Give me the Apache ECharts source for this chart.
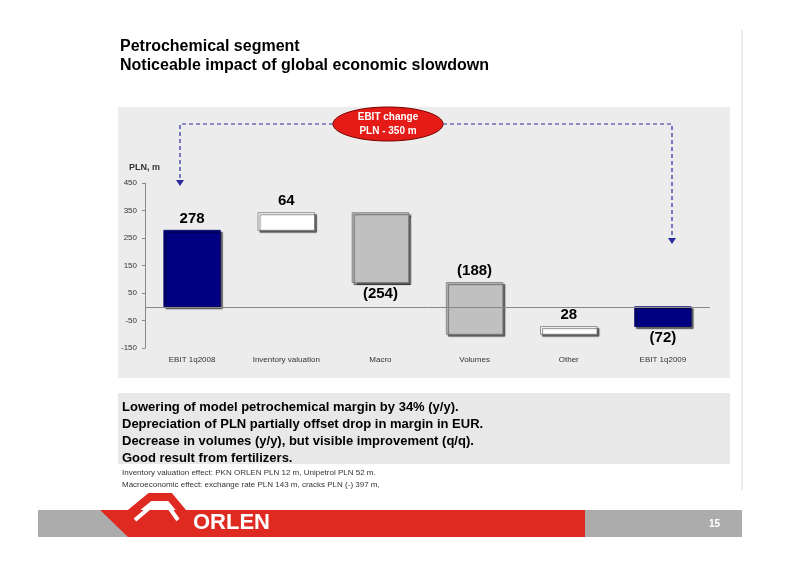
<!DOCTYPE html>
<html><head><meta charset="utf-8">
<script src="https://cdn.jsdelivr.net/npm/echarts@6/dist/echarts.min.js"></script>
<style>html,body{margin:0;padding:0;background:#fff}#c{width:800px;height:565px}</style>
</head><body><div id="c"></div>
<script>
var categories = ['EBIT 1q2008', 'Inventory valuation', 'Macro', 'Volumes', 'Other', 'EBIT 1q2009'];
var changes = [278, 64, -254, -188, 28, -72];
var kinds = ['total', 'up', 'down', 'down', 'up', 'total'];
var valueLabels = ['278', '64', '(254)', '(188)', '28', '(72)'];
var yTicks = [-150, -50, 50, 150, 250, 350, 450];
var bulletText = [
  'Lowering of model petrochemical margin by 34% (y/y).',
  'Depreciation of PLN partially offset drop in margin in EUR.',
  'Decrease in volumes (y/y), but visible improvement (q/q).',
  'Good result from fertilizers.'
];
var notes = [
  'Inventory valuation effect: PKN ORLEN PLN 12 m, Unipetrol PLN 52 m.',
  'Macroeconomic effect: exchange rate PLN 143 m, cracks PLN (-) 397 m,'
];

var colors = {total: '#000080', up: '#ffffff', down: '#c0c0c0'};
// build [index, low, high, labelBelow] from the running sum
var bars = [];
var run = 0;
for (var i = 0; i < changes.length; i++) {
  var from, to;
  if (kinds[i] === 'total') { from = 0; to = changes[i]; run = changes[i]; }
  else { from = run; to = run + changes[i]; run = to; }
  var below = (i === 2 || i === 5);
  bars.push([i, Math.min(from, to), Math.max(from, to), below ? 1 : 0]);
}

var chart = echarts.init(document.getElementById('c'));
var font = 'Arial, "Liberation Sans", sans-serif';
var graphics = [
  {type: 'line', shape: {x1: 742, y1: 30, x2: 742, y2: 490}, style: {stroke: '#d8d8d8', lineWidth: 1}},
  {type: 'text', left: 120, top: 37, style: {text: 'Petrochemical segment\nNoticeable impact of global economic slowdown', font: 'bold 16px ' + font, fill: '#000', lineHeight: 19}},
  {type: 'rect', shape: {x: 118, y: 107, width: 612, height: 271}, style: {fill: '#ececec'}, z: -10},
  {type: 'rect', shape: {x: 118, y: 393, width: 612, height: 71}, style: {fill: '#e8e8e8'}, z: -10},
  {type: 'text', left: 122, top: 399, style: {text: bulletText.join('\n'), font: 'bold 13px ' + font, fill: '#000', lineHeight: 17}},
  {type: 'text', left: 122, top: 467, style: {text: notes.join('\n'), font: '8px ' + font, fill: '#333', lineHeight: 12}},
  {type: 'polyline', shape: {points: [[333, 124], [180, 124], [180, 180]]}, style: {stroke: '#2a2aa0', lineDash: [4, 3], lineWidth: 1.2, fill: null}},
  {type: 'polyline', shape: {points: [[443, 124], [672, 124], [672, 238]]}, style: {stroke: '#2a2aa0', lineDash: [4, 3], lineWidth: 1.2, fill: null}},
  {type: 'polygon', shape: {points: [[176, 180], [184, 180], [180, 186]]}, style: {fill: '#2a2aa0'}},
  {type: 'polygon', shape: {points: [[668, 238], [676, 238], [672, 244]]}, style: {fill: '#2a2aa0'}},
  {type: 'ellipse', shape: {cx: 388, cy: 124, rx: 55, ry: 17}, style: {fill: '#e41b17', stroke: '#7a0000', lineWidth: 1}},
  {type: 'text', x: 388, y: 124, style: {text: 'EBIT change\nPLN - 350 m', font: 'bold 10px ' + font, fill: '#fff', align: 'center', verticalAlign: 'middle', lineHeight: 14}},
  {type: 'text', left: 129, top: 163, style: {text: 'PLN, m', font: 'bold 9px ' + font, fill: '#333'}},
  // footer
  {type: 'rect', shape: {x: 38, y: 510, width: 704, height: 27}, style: {fill: '#acacac'}},
  {type: 'polygon', shape: {points: [[100, 510], [585, 510], [585, 537], [128, 537]]}, style: {fill: '#de2a20'}},
  {type: 'text', left: 193, top: 512, style: {text: 'ORLEN', font: 'bold 22px ' + font, fill: '#fff'}},
  {type: 'polyline', shape: {points: [[128, 515], [150, 497], [170, 497], [185, 515]]}, style: {stroke: '#de2a20', lineWidth: 8, fill: null}},
  {type: 'polyline', shape: {points: [[135, 520], [155, 503], [166, 503], [178, 520]]}, style: {stroke: '#fff', lineWidth: 4, fill: null}},
  {type: 'text', left: 709, top: 519, style: {text: '15', font: 'bold 10px ' + font, fill: '#fff'}}
];

chart.setOption({
  animation: false,
  graphic: graphics,
  grid: {left: 145, right: 90, top: 183, bottom: 217},
  xAxis: {type: 'category', data: categories, position: 'bottom', axisLine: {show: false}, axisTick: {show: false},
    axisLabel: {fontSize: 8, fontFamily: font, color: '#333', margin: 8}},
  yAxis: {
    type: 'value', min: -150, max: 450,
    splitLine: {show: false},
    axisLine: {show: true, lineStyle: {color: '#888'}},
    axisTick: {show: true, length: 3, customValues: yTicks, lineStyle: {color: '#888'}},
    axisLabel: {fontSize: 8, fontFamily: font, color: '#333', customValues: yTicks}
  },
  series: [{
    type: 'custom',
    data: bars,
    markLine: {
      silent: true, symbol: 'none', label: {show: false},
      lineStyle: {color: '#888', type: 'solid', width: 1},
      data: [{yAxis: 0}]
    },
    renderItem: function (params, api) {
      var idx = api.value(0);
      var lo = api.coord([idx, api.value(1)]);
      var hi = api.coord([idx, api.value(2)]);
      var w = api.size([1, 0])[0] * 0.6;
      var k = kinds[idx];
      var below = api.value(3) === 1;
      return {
        type: 'group',
        children: [
          {type: 'rect', shape: {x: hi[0] - w / 2, y: hi[1], width: w, height: lo[1] - hi[1]},
           style: {fill: colors[k], stroke: k === 'total' ? '#000060' : '#777', lineWidth: 0.8,
                   shadowColor: 'rgba(0,0,0,0.6)', shadowOffsetX: 2, shadowOffsetY: 2, shadowBlur: 1}},
          {type: 'text', x: hi[0], y: below ? lo[1] + 4 : hi[1] - 4,
           style: {text: valueLabels[idx], font: 'bold 15px ' + font, fill: '#000',
                   align: 'center', verticalAlign: below ? 'top' : 'bottom'}}
        ]
      };
    }
  }]
});
</script>
</body></html>
